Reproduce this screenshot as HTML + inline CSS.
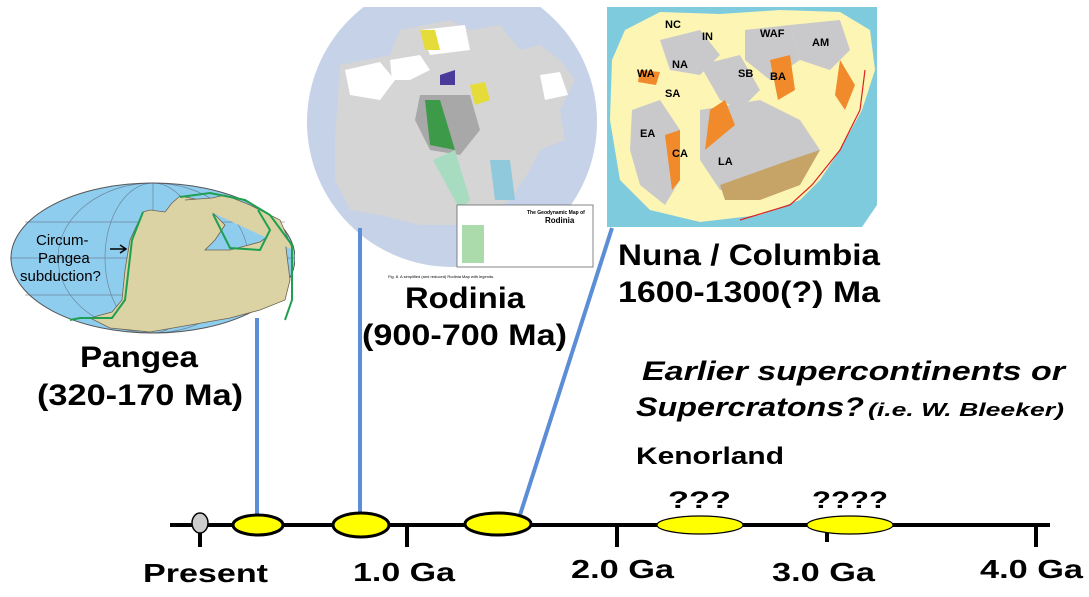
<!DOCTYPE html>
<html><head><meta charset="utf-8"><style>
html,body{margin:0;padding:0;background:#fff;width:1089px;height:597px;overflow:hidden}
svg text{font-family:"Liberation Sans",Arial,sans-serif;font-weight:bold;fill:#000}
</style></head><body>
<svg width="1089" height="597" viewBox="0 0 1089 597" xmlns="http://www.w3.org/2000/svg">
<defs>
<clipPath id="pc"><rect x="0" y="180" width="295" height="160"/></clipPath>
<clipPath id="rc"><rect x="305" y="7" width="292" height="262"/></clipPath>
<clipPath id="nc"><path d="M607 7 H877 V205 L862 227 H607 Z"/></clipPath>
</defs>
<!-- Pangea -->
<g clip-path="url(#pc)">
<ellipse cx="153" cy="258" rx="142" ry="75" fill="#8fcdee" stroke="#555" stroke-width="1"/>
<g stroke="#556" stroke-width="0.7" fill="none" opacity="0.6">
<line x1="10" y1="258" x2="300" y2="258"/><line x1="25" y1="222" x2="285" y2="222"/><line x1="25" y1="295" x2="285" y2="295"/>
<ellipse cx="153" cy="258" rx="95" ry="75"/><ellipse cx="153" cy="258" rx="48" ry="75"/><line x1="153" y1="183" x2="153" y2="333"/>
</g>
<path d="M143 212 L150 210 165 212 172 203 180 196 200 200 215 215 225 225 215 240 205 250 230 250 260 242 270 235 285 240 290 280 285 300 260 310 230 318 190 325 150 332 110 328 90 318 112 312 122 300 125 270 130 240 Z" fill="#dcd3a5" stroke="#6b6350" stroke-width="0.8"/>
<path d="M185 200 L212 198 225 195 250 205 280 220 293 250" fill="#dcd3a5" stroke="#6b6350" stroke-width="0.8"/>
<path d="M180 197 L210 193 245 200 270 215 292 245 292 300 285 320" fill="none" stroke="#1fa050" stroke-width="2"/>
<path d="M213 214 L230 248 260 250 270 230 258 210" fill="none" stroke="#1fa050" stroke-width="2"/>
<path d="M143 212 L132 240 125 300 112 318 80 318 70 320" fill="none" stroke="#1fa050" stroke-width="2"/>
</g>
<text x="36" y="245" style="font-weight:normal;font-size:15px" fill="#333">Circum-</text>
<text x="38" y="263" style="font-weight:normal;font-size:15px">Pangea</text>
<text x="20" y="281" style="font-weight:normal;font-size:15px">subduction?</text>
<path d="M110 249 L125 249 M120 245 L126 249 120 253" stroke="#000" stroke-width="1.5" fill="none"/>
<!-- Rodinia -->
<g clip-path="url(#rc)">
<circle cx="452" cy="122" r="145" fill="#c6d2e7"/>
<path d="M340 65 L390 55 400 30 450 20 470 30 500 25 520 50 540 45 560 60 575 80 560 110 565 140 540 150 530 170 510 200 470 225 420 225 380 215 350 210 335 180 335 140 Z" fill="#d5d5d5"/>
<path d="M345 70 L380 62 395 80 380 100 350 95Z" fill="#fff"/>
<path d="M390 60 L420 55 430 70 410 80 392 80Z" fill="#fff"/>
<path d="M420 30 L465 25 470 50 430 55Z" fill="#fff"/>
<path d="M540 75 L560 72 568 95 545 100Z" fill="#fff"/>
<path d="M420 95 L470 95 480 130 460 155 430 150 415 120Z" fill="#a8a8a8"/>
<path d="M425 100 L440 100 455 150 430 145Z" fill="#3d9a48"/>
<path d="M420 30 L435 30 440 50 425 50Z" fill="#e5dc3a"/>
<path d="M470 85 L485 82 490 100 475 105Z" fill="#e5dc3a"/>
<path d="M433 160 L455 150 470 200 460 210Z" fill="#a8dcc0"/>
<path d="M490 160 L510 160 515 200 495 200Z" fill="#90c8dc"/>
<path d="M440 75 L455 70 455 85 440 85Z" fill="#4a3a9a"/>
</g>
<rect x="457" y="205" width="136" height="62" fill="#fff" stroke="#666" stroke-width="0.8"/>
<text x="527" y="214" style="font-size:5px">The Geodynamic Map of</text>
<text x="545" y="223" style="font-size:8px">Rodinia</text>
<rect x="462" y="225" width="22" height="38" fill="#8c8" opacity="0.7"/>
<text x="388" y="278" style="font-weight:normal;font-size:4px" fill="#555">Fig. 8. A simplified (and reduced) Rodinia Map with legends.</text>
<!-- Nuna -->
<g clip-path="url(#nc)">
<rect x="607" y="7" width="270" height="222" fill="#7ecbde"/>
<path d="M625 30 L660 12 720 14 780 10 840 12 870 30 875 70 862 110 840 150 820 180 800 200 760 215 700 222 650 210 620 180 610 120 612 60 Z" fill="#fdf5b3"/>
<path d="M632 110 L660 100 680 130 680 180 665 205 640 185 630 150Z" fill="#c9c9cb"/>
<path d="M660 40 L700 30 720 55 700 75 670 70Z" fill="#c9c9cb"/>
<path d="M700 65 L740 55 760 90 740 110 720 100Z" fill="#c9c9cb"/>
<path d="M745 30 L790 25 800 60 770 80 745 60Z" fill="#c9c9cb"/>
<path d="M790 25 L840 20 850 50 830 70 800 60Z" fill="#c9c9cb"/>
<path d="M700 110 L760 100 800 120 820 150 800 180 760 190 720 190 700 160Z" fill="#c9c9cb"/>
<path d="M720 185 L790 160 820 150 800 185 760 200 725 200Z" fill="#c6a468"/>
<path d="M665 135 L680 130 680 180 672 190Z" fill="#f08a2a"/>
<path d="M710 110 L725 100 735 125 705 150Z" fill="#f08a2a"/>
<path d="M770 60 L790 55 795 90 778 100Z" fill="#f08a2a"/>
<path d="M840 60 L855 85 845 110 835 95Z" fill="#f08a2a"/>
<path d="M640 70 L660 72 656 85 638 82Z" fill="#f08a2a"/>
<path d="M865 70 L860 110 840 150 812 185 790 205 740 220" fill="none" stroke="#d22" stroke-width="1.2"/>
</g>
<g style="font-weight:normal;font-size:11px" fill="#333">
<text x="665" y="28">NC</text><text x="702" y="40">IN</text><text x="760" y="37">WAF</text><text x="812" y="46">AM</text>
<text x="672" y="68">NA</text><text x="637" y="77">WA</text><text x="738" y="77">SB</text><text x="770" y="80">BA</text>
<text x="665" y="97">SA</text><text x="640" y="137">EA</text><text x="672" y="157">CA</text><text x="718" y="165">LA</text>
</g>
<!-- labels -->
<text x="618" y="265" style="font-size:30px" textLength="262" lengthAdjust="spacingAndGlyphs">Nuna / Columbia</text>
<text x="618" y="302" style="font-size:30px" textLength="262" lengthAdjust="spacingAndGlyphs">1600-1300(?) Ma</text>
<text x="405" y="308" style="font-size:30px" textLength="120" lengthAdjust="spacingAndGlyphs">Rodinia</text>
<text x="362" y="345" style="font-size:30px" textLength="205" lengthAdjust="spacingAndGlyphs">(900-700 Ma)</text>
<text x="80" y="367" style="font-size:30px" textLength="118" lengthAdjust="spacingAndGlyphs">Pangea</text>
<text x="37" y="405" style="font-size:30px" textLength="206" lengthAdjust="spacingAndGlyphs">(320-170 Ma)</text>
<text x="642" y="380" style="font-size:27px;font-style:italic" textLength="423" lengthAdjust="spacingAndGlyphs">Earlier supercontinents or</text>
<text x="636" y="416" style="font-size:27px;font-style:italic" textLength="228" lengthAdjust="spacingAndGlyphs">Supercratons?</text>
<text x="868" y="416" style="font-size:18px;font-style:italic" textLength="196" lengthAdjust="spacingAndGlyphs">(i.e. W. Bleeker)</text>
<text x="636" y="464" style="font-size:24px" textLength="148" lengthAdjust="spacingAndGlyphs">Kenorland</text>
<!-- connectors -->
<g stroke="#5b8ed6" stroke-width="4">
<line x1="257" y1="318" x2="257" y2="515"/>
<line x1="360" y1="228" x2="360" y2="515"/>
<line x1="612" y1="228" x2="520" y2="515"/>
</g>
<!-- timeline -->
<g stroke="#000" stroke-width="4">
<line x1="170" y1="525" x2="1050" y2="525"/>
<line x1="200" y1="525" x2="200" y2="547"/>
<line x1="407" y1="525" x2="407" y2="547"/>
<line x1="617" y1="525" x2="617" y2="547"/>
<line x1="827" y1="525" x2="827" y2="542"/>
<line x1="1036" y1="525" x2="1036" y2="547"/>
</g>
<ellipse cx="200" cy="523" rx="8" ry="10" fill="#ccc" stroke="#000" stroke-width="1.5"/>
<ellipse cx="258" cy="525" rx="25" ry="10" fill="#ff0" stroke="#000" stroke-width="3"/>
<ellipse cx="361" cy="525" rx="28" ry="12" fill="#ff0" stroke="#000" stroke-width="3"/>
<ellipse cx="498" cy="524" rx="33" ry="11" fill="#ff0" stroke="#000" stroke-width="3"/>
<ellipse cx="700" cy="525" rx="43" ry="9" fill="#ff0" stroke="#000" stroke-width="1.2"/>
<ellipse cx="850" cy="525" rx="43" ry="9" fill="#ff0" stroke="#000" stroke-width="1.2"/>
<text x="668" y="508" style="font-size:24px" textLength="63" lengthAdjust="spacingAndGlyphs">???</text>
<text x="812" y="508" style="font-size:24px" textLength="76" lengthAdjust="spacingAndGlyphs">????</text>
<g style="font-size:26px">
<text x="143" y="582" textLength="125" lengthAdjust="spacingAndGlyphs">Present</text>
<text x="353" y="581" textLength="102" lengthAdjust="spacingAndGlyphs">1.0 Ga</text>
<text x="571" y="578" textLength="103" lengthAdjust="spacingAndGlyphs">2.0 Ga</text>
<text x="772" y="581" textLength="103" lengthAdjust="spacingAndGlyphs">3.0 Ga</text>
<text x="980" y="578" textLength="103" lengthAdjust="spacingAndGlyphs">4.0 Ga</text>
</g>
</svg>
</body></html>
